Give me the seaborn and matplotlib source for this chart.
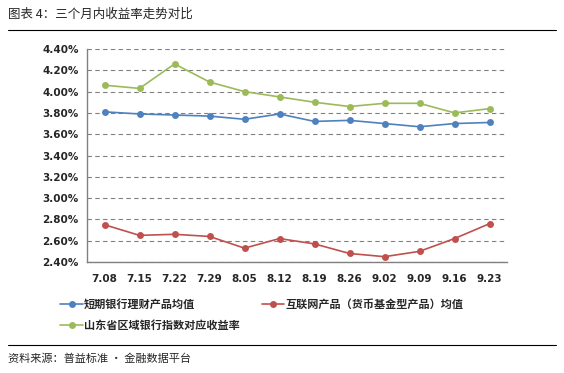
import pandas as pd
import seaborn as sns
import matplotlib.pyplot as plt
from matplotlib.ticker import FuncFormatter

dates = ['7.08', '7.15', '7.22', '7.29', '8.05', '8.12', '8.19', '8.26', '9.02', '9.09', '9.16', '9.23']
bank = [3.81, 3.79, 3.78, 3.77, 3.74, 3.79, 3.72, 3.73, 3.70, 3.67, 3.70, 3.71]
internet = [2.75, 2.65, 2.66, 2.64, 2.53, 2.62, 2.57, 2.48, 2.45, 2.50, 2.62, 2.76]
shandong = [4.06, 4.03, 4.26, 4.09, 4.00, 3.95, 3.90, 3.86, 3.89, 3.89, 3.80, 3.84]

names = ['短期银行理财产品均值', '互联网产品（货币基金型产品）均值', '山东省区域银行指数对应收益率']
colours = {names[0]: '#4F81BD', names[1]: '#C0504D', names[2]: '#9BBB59'}

df = pd.DataFrame({'date': dates, names[0]: bank, names[1]: internet, names[2]: shandong})
long = df.melt(id_vars='date', var_name='series', value_name='rate')

sns.set_style('white')
plt.rcParams['font.family'] = ['Noto Sans CJK SC', 'DejaVu Sans']

fig = plt.figure(figsize=(5.64, 3.73), dpi=100)
ax = fig.add_axes([87 / 564, 1 - 262 / 373, 420 / 564, 213 / 373])

sns.lineplot(data=long, x='date', y='rate', hue='series', palette=colours,
             marker='o', markersize=5, markeredgewidth=0, linewidth=1.2,
             sort=False, ax=ax)

ax.set_xlim(-0.5, 11.5)
ax.set_ylim(2.40, 4.40)
ax.set_yticks([2.40 + 0.2 * i for i in range(11)])
ax.yaxis.set_major_formatter(FuncFormatter(lambda v, p: '{:.2f}%'.format(v)))
ax.set_xlabel('')
ax.set_ylabel('')
ax.grid(axis='y', color='#808080', linestyle=(0, (4, 3)), linewidth=0.8)
for side in ['top', 'right']:
    ax.spines[side].set_visible(False)
for side in ['left', 'bottom']:
    ax.spines[side].set_color('#808080')
    ax.spines[side].set_linewidth(1.0)
ax.tick_params(axis='y', length=0, pad=6)
ax.tick_params(axis='x', length=0, pad=9)
for lab in ax.get_yticklabels() + ax.get_xticklabels():
    lab.set_fontsize(7.5)
    lab.set_fontweight('bold')
    lab.set_family(['DejaVu Sans'])

handles, labels = ax.get_legend_handles_labels()
ax.legend_.remove()
order = [0, 2, 1]
fig.legend([handles[i] for i in order], [labels[i] for i in order],
           loc='upper left', bbox_to_anchor=(56 / 564, 1 - 293 / 373), ncol=2,
           frameon=False, prop={'size': 8, 'weight': 'bold'}, handlelength=2.0,
           handletextpad=0.1, columnspacing=2.0, labelspacing=0.75, borderaxespad=0)

fig.text(8 / 564, 1 - 14 / 373, '图表 4：三个月内收益率走势对比', fontsize=9, va='center')
fig.add_artist(plt.Line2D([8 / 564, 556 / 564], [1 - 30 / 373] * 2, color='black', linewidth=0.8))
fig.add_artist(plt.Line2D([8 / 564, 556 / 564], [1 - 345 / 373] * 2, color='black', linewidth=0.8))
fig.text(8 / 564, 1 - 359 / 373, '资料来源：普益标准 · 金融数据平台', fontsize=8, va='center')

fig.savefig('out.png', dpi=100)
